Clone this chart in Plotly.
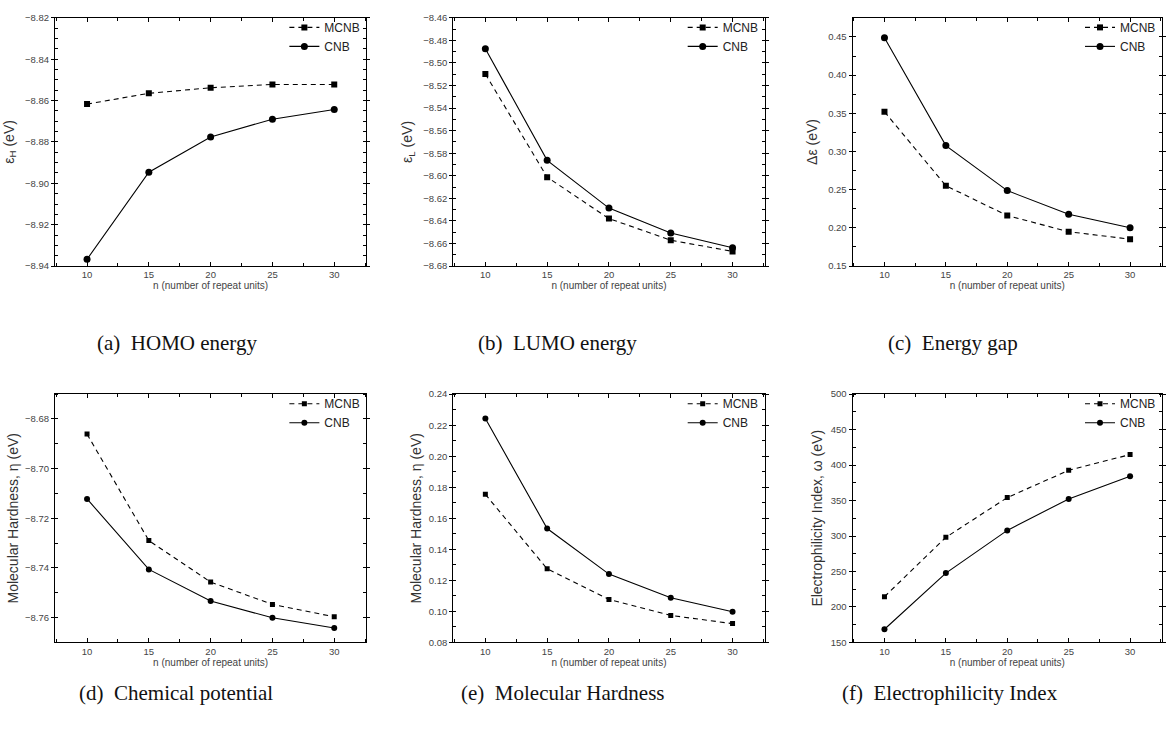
import plotly.graph_objects as go

# Chain length n (number of repeat units)
n_units = [10, 15, 20, 25, 30]

# HOMO energy (eV)
homo_mcnb = [-8.8617, -8.8565, -8.8538, -8.8522, -8.8522]
homo_cnb = [-8.9367, -8.8946, -8.8776, -8.8690, -8.8643]

# LUMO energy (eV)
lumo_mcnb = [-8.5098, -8.6012, -8.6379, -8.6571, -8.6670]
lumo_cnb = [-8.4874, -8.5863, -8.6286, -8.6507, -8.6638]

# HOMO-LUMO gap (eV)
gap_mcnb = [0.352, 0.2552, 0.2161, 0.1950, 0.1852]
gap_cnb = [0.449, 0.3077, 0.2488, 0.2178, 0.2002]

# Chemical potential (eV)
mu_mcnb = [-8.6861, -8.7290, -8.7457, -8.7547, -8.7597]
mu_cnb = [-8.7122, -8.7406, -8.7533, -8.7601, -8.7642]

# Molecular hardness (eV)
eta_mcnb = [0.1754, 0.1274, 0.1077, 0.0974, 0.0921]
eta_cnb = [0.2243, 0.1534, 0.1240, 0.1088, 0.0997]

# Electrophilicity index (eV)
omega_mcnb = [214.4, 298.1, 354.2, 392.6, 414.8]
omega_cnb = [168.5, 247.7, 307.9, 352.3, 384.3]

panels = [
    dict(mcnb=homo_mcnb, cnb=homo_cnb, ytitle="ε<sub>H</sub> (eV)",
         yrange=[-8.94, -8.82], tick0=-8.94, dtick=0.02, minor=0.005, fmt=".2f",
         caption="(a)  HOMO energy", cap_x=177, standoff=7),
    dict(mcnb=lumo_mcnb, cnb=lumo_cnb, ytitle="ε<sub>L</sub> (eV)",
         yrange=[-8.68, -8.46], tick0=-8.68, dtick=0.02, minor=0.01, fmt=".2f",
         caption="(b)  LUMO energy", cap_x=558, standoff=7),
    dict(mcnb=gap_mcnb, cnb=gap_cnb, ytitle="Δε (eV)",
         yrange=[0.15, 0.475], tick0=0.15, dtick=0.05, minor=0.025, fmt=".2f",
         caption="(c)  Energy gap", cap_x=955, standoff=7),
    dict(mcnb=mu_mcnb, cnb=mu_cnb, ytitle="Molecular Hardness, η (eV)",
         yrange=[-8.77, -8.67], tick0=-8.76, dtick=0.02, minor=0.01, fmt=".2f",
         caption="(d)  Chemical potential", cap_x=176, standoff=3),
    dict(mcnb=eta_mcnb, cnb=eta_cnb, ytitle="Molecular Hardness, η (eV)",
         yrange=[0.08, 0.24], tick0=0.08, dtick=0.02, minor=0.01, fmt=".2f",
         caption="(e)  Molecular Hardness", cap_x=564, standoff=3),
    dict(mcnb=omega_mcnb, cnb=omega_cnb, ytitle="Electrophilicity Index, ω (eV)",
         yrange=[150, 500], tick0=150, dtick=50, minor=25, fmt="d",
         caption="(f)  Electrophilicity Index", cap_x=952, standoff=4),
]

W, H = 1166, 740
col_px = [(55, 367), (454, 766), (854, 1164)]
row_px = [(12, 264), (394, 646)]
cap_y = [342, 697]

SANS = "Liberation Sans, Arial, sans-serif"
SERIF = "Liberation Serif, Times New Roman, serif"

fig = go.Figure()
layout = dict(
    width=W, height=H, margin=dict(l=0, r=0, t=0, b=0),
    paper_bgcolor="white", plot_bgcolor="white",
    font=dict(family=SANS, color="#333333"),
    annotations=[],
)

for i, p in enumerate(panels):
    r, c = divmod(i, 3)
    k = "" if i == 0 else str(i + 1)
    x0, x1 = col_px[c]
    top, bot = row_px[r]
    xdom = [x0 / W, x1 / W]
    ydom = [1 - bot / H, 1 - top / H]
    leg = "legend" + k
    msize = 6 if r == 0 else 5

    fig.add_trace(go.Scatter(
        x=n_units, y=p["mcnb"], name="MCNB", mode="lines+markers",
        line=dict(color="black", width=1.1, dash="5px,4px"),
        marker=dict(symbol="square", size=msize, color="black"),
        xaxis="x" + k, yaxis="y" + k, legend=leg,
    ))
    fig.add_trace(go.Scatter(
        x=n_units, y=p["cnb"], name="CNB", mode="lines+markers",
        line=dict(color="black", width=1.1),
        marker=dict(symbol="circle", size=msize + 1, color="black"),
        xaxis="x" + k, yaxis="y" + k, legend=leg,
    ))

    layout["xaxis" + k] = dict(
        domain=xdom, anchor="y" + k, range=[7.4, 32.6],
        tickmode="linear", tick0=10, dtick=5,
        ticks="inside", ticklen=4, tickcolor="black",
        minor=dict(dtick=2.5, tick0=10, ticks="inside", ticklen=3, tickcolor="black"),
        showline=True, linecolor="black", linewidth=1, mirror="allticks",
        showgrid=False, zeroline=False,
        tickfont=dict(size=9.5, color="#444444"),
        title=dict(text="n (number of repeat units)", standoff=2,
                   font=dict(size=10, color="#444444")),
    )
    layout["yaxis" + k] = dict(
        domain=ydom, anchor="x" + k, range=p["yrange"],
        tickmode="linear", tick0=p["tick0"], dtick=p["dtick"],
        tickformat=p["fmt"],
        ticks="outside", ticklen=3, tickcolor="black",
        minor=dict(dtick=p["minor"], ticks="inside", ticklen=3, tickcolor="black"),
        showline=True, linecolor="black", linewidth=1, mirror="allticks",
        showgrid=False, zeroline=False,
        tickfont=dict(size=9.5, color="#444444"),
        title=dict(text=p["ytitle"], standoff=p["standoff"],
                   font=dict(size=14, color="#333333")),
    )
    layout[leg] = dict(
        x=xdom[1] - 1 / W, y=ydom[1] + 5 / H, xanchor="right", yanchor="top",
        bgcolor="rgba(0,0,0,0)", borderwidth=0,
        font=dict(size=12, color="#222222"), tracegroupgap=0,
        itemwidth=30,
    )
    layout["annotations"].append(dict(
        text=p["caption"], x=p["cap_x"] / W, y=1 - cap_y[r] / H,
        xref="paper", yref="paper", xanchor="center", yanchor="middle",
        showarrow=False, font=dict(family=SERIF, size=21, color="#111111"),
    ))

fig.update_layout(**layout)
fig.write_html("out.html")
